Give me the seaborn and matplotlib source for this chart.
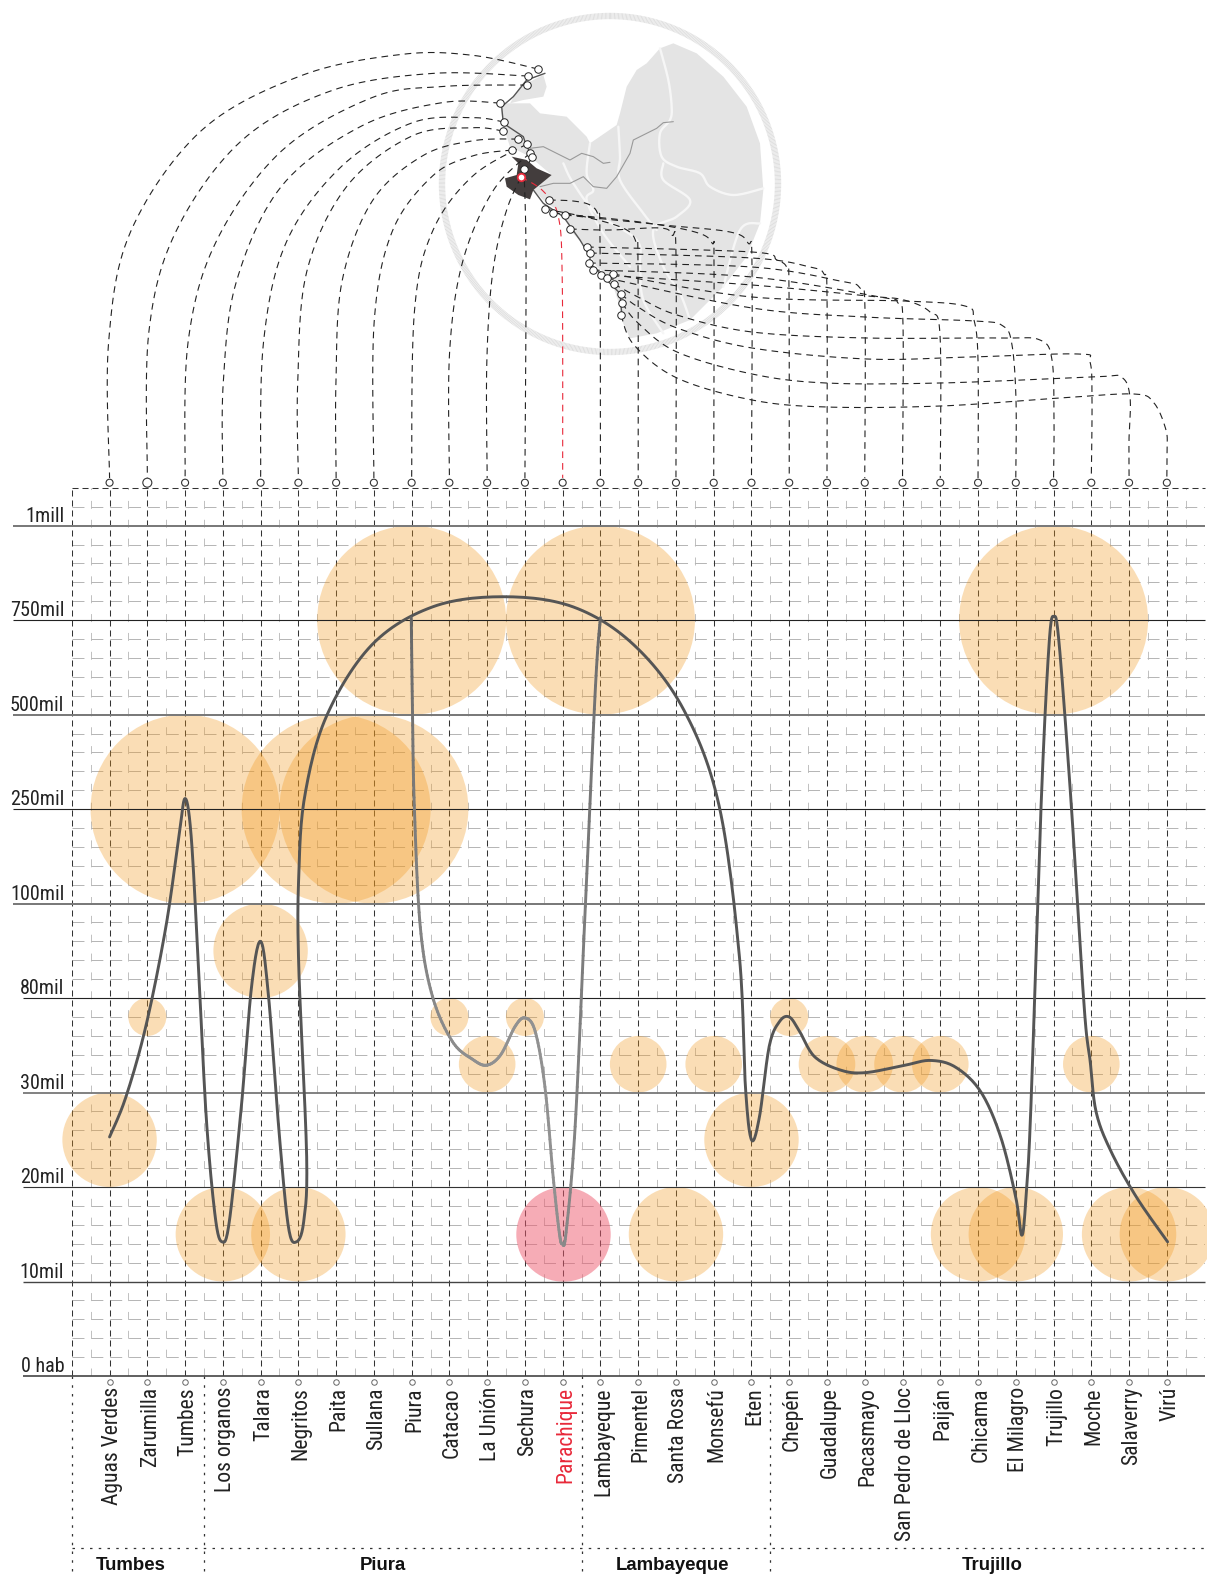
import matplotlib
matplotlib.use("Agg")
import matplotlib.pyplot as plt
from matplotlib import font_manager
from matplotlib.patches import Circle, Polygon
from matplotlib.transforms import ScaledTranslation
import numpy as np
import pandas as pd
import seaborn as sns

# town data
towns = ["Aguas Verdes", "Zarumilla", "Tumbes", "Los organos", "Talara", "Negritos", "Paita",
         "Sullana", "Piura", "Catacao", "La Unión", "Sechura", "Parachique", "Lambayeque",
         "Pimentel", "Santa Rosa", "Monsefú", "Eten", "Chepén", "Guadalupe", "Pacasmayo",
         "San Pedro de Lloc", "Paiján", "Chicama", "El Milagro", "Trujillo", "Moche",
         "Salaverry", "Virú"]
population = [25000, 70000, 250000, 15000, 90000, 15000, 250000, 250000, 750000, 70000, 45000,
              70000, 15000, 750000, 45000, 15000, 45000, 25000, 70000, 45000, 45000, 45000,
              45000, 15000, 15000, 750000, 45000, 15000, 15000]
# bubble class 1-4 (smallest to biggest)
bubble_class = [3, 1, 4, 3, 3, 3, 4, 4, 4, 1, 2, 1, 3, 4, 2, 3, 2, 3, 1, 2, 2, 2, 2, 3, 3, 4, 2, 3, 3]
highlight = "Parachique"

level_values = [0, 10000, 20000, 30000, 80000, 100000, 250000, 500000, 750000, 1000000]
level_labels = ["0 hab", "10mil", "20mil", "30mil", "80mil", "100mil", "250mil", "500mil", "750mil", "1mill"]
level_start = [23, 23, 23, 23, 23, 13, 13, 13, 13, 13]
level_colors = ["#444444", "#444444", "#333333", "#777777", "#222222", "#777777", "#222222", "#777777", "#222222", "#777777"]
level_widths = [1.2, 1.0, 0.8, 1.3, 0.8, 1.4, 0.8, 1.4, 0.8, 1.4]

regions = ["Tumbes", "Piura", "Lambayeque", "Trujillo"]
region_edges = [-1, 2.5, 12.5, 17.5]
region_label_at = [0.55, 7.24, 14.9, 23.37]

# population curve
line_x = [0, .43, .96, 1.49, 1.84, 2, 2.16, 2.34, 2.56, 2.8, 2.98, 3.17, 3.49, 3.76, 4, 4.21, 4.5,
          4.74, 4.95, 5.14, 5.22, 5.01, 5.01, 5.17, 5.75, 6.95, 8.55, 10.42, 12.28, 13.88, 15.21,
          16.14, 16.68, 16.84, 17, 17.21, 17.47, 17.74, 18, 18.27, 18.67, 19.34, 20, 21.07, 21.74,
          22.4, 23.07, 23.6, 24, 24.16, 24.27, 24.4, 24.67, 24.88, 25.01, 25.15, 25.47, 25.81, 25.97,
          26.13, 26.53, 27.2, 28.02]
line_pop = [25300, 29500, 65000, 95000, 208000, 278000, 208000, 89000, 27400, 16800, 14200, 16300,
            28500, 82400, 92000, 80400, 25300, 15700, 14200, 16300, 23200, 86800, 143500, 285000,
            497000, 685000, 785000, 812000, 785000, 685000, 512000, 260000, 88800, 33000, 25000,
            27400, 54500, 67500, 70000, 62500, 49000, 42000, 40500, 44500, 47000, 43500, 30500,
            25300, 18900, 14900, 18900, 28500, 260000, 685000, 760000, 685000, 260000, 75500, 46500,
            27900, 23700, 18900, 14200]
inner_x = [7.99, 8.02, 8.07, 8.23, 8.55, 9.08, 9.62, 9.99, 10.36, 10.74, 11, 11.27, 11.53, 11.75,
           11.91, 11.99, 12.09, 12.33, 12.6, 12.87, 13]
inner_pop = [757000, 525000, 260000, 95000, 80400, 57000, 47500, 44500, 50000, 65000, 69500, 62500,
             33000, 21000, 15200, 14000, 15200, 26400, 99400, 577000, 757000]

# map, in pixels of the picture
town_x = [538, 528, 527, 500, 504, 503, 518, 512, 527, 530, 532, 524, 521, 549, 545, 570, 553, 565,
          587, 590, 589, 593, 601, 613, 607, 614, 621, 622, 621]
town_y = [69, 76, 85, 103, 122, 131, 139, 150, 144, 153, 157, 169, 177, 200, 209, 229, 213, 215,
          247, 253, 263, 270, 275, 274, 278, 284, 294, 303, 315]
# arc way points between town and column
arc_way = {
    "Aguas Verdes": [(470, 55), (400, 54), (300, 75), (200, 130), (130, 230), (108, 340)],
    "Zarumilla": [(430, 73), (330, 90), (240, 140), (175, 230), (148, 330)],
    "Tumbes": [(440, 86), (370, 97), (280, 150), (215, 240), (187, 340)],
    "Los organos": [(440, 102), (360, 125), (280, 185), (235, 280), (222, 380)],
    "Talara": [(470, 117), (410, 122), (340, 165), (285, 240), (262, 340)],
    "Negritos": [(470, 127), (410, 135), (345, 185), (305, 270), (296, 380)],
    "Paita": [(470, 140), (420, 155), (370, 200), (340, 280), (334, 380)],
    "Sullana": [(470, 155), (430, 175), (390, 230), (372, 320)],
    "Piura": [(470, 175), (430, 230), (412, 310)],
    "Catacao": [(490, 190), (460, 260), (447, 350)],
    "La Unión": [(505, 205), (490, 270), (484, 360)],
    "Sechura": [(523, 260)],
    "Parachique": [(540, 190), (555, 215), (559, 280)],
}
arc_way_true = {
    "Lambayeque": [(573, 201), (590, 205), (598, 215), (600, 240)],
    "Pimentel": [(590, 218), (625, 229), (636, 242), (638, 265)],
    "Santa Rosa": [(610, 230), (660, 228), (672, 235), (676, 255)],
    "Monsefú": [(640, 222), (695, 232), (712, 243), (714, 265)],
    "Eten": [(663, 225), (730, 232), (748, 243), (752, 265)],
    "Chepén": [(752, 252), (777, 260), (787, 268), (789, 290)],
    "Guadalupe": [(752, 258), (810, 267), (824, 274), (827, 295)],
    "Pacasmayo": [(752, 267), (840, 281), (860, 288), (865, 310)],
    "San Pedro de Lloc": [(752, 277), (880, 297), (898, 303), (903, 325)],
    "Paiján": [(752, 285), (868, 296), (904, 300), (930, 312), (940, 335)],
    "Chicama": [(752, 297), (904, 301), (965, 306), (974, 320), (978, 360)],
    "El Milagro": [(752, 308), (865, 317), (975, 321), (1003, 326), (1012, 345), (1016, 400)],
    "Trujillo": [(638, 297), (677, 315), (752, 332), (867, 338), (1000, 338), (1040, 340), (1052, 360), (1054, 420)],
    "Moche": [(638, 307), (677, 328), (752, 348), (867, 359), (970, 357), (1078, 354), (1090, 362), (1092, 400)],
    "Salaverry": [(638, 323), (677, 352), (752, 374), (826, 383), (941, 383), (1093, 377), (1121, 377), (1130, 397), (1129, 440)],
    "Virú": [(634, 345), (677, 378), (752, 400), (826, 407), (941, 406), (1060, 398), (1134, 394), (1154, 403), (1166, 430), (1167, 450)],
}
# land and lines in 3x crop units, crop origin at 430,0
land_main = [(690, 145), (730, 130), (800, 160), (880, 230), (950, 320), (990, 430), (1000, 570),
             (990, 670), (950, 770), (880, 860), (780, 960), (680, 1000), (600, 1015), (575, 960),
             (570, 920), (540, 830), (500, 800), (470, 745), (420, 690), (400, 640), (350, 610),
             (310, 570), (330, 550), (365, 525), (300, 470), (240, 440), (220, 380), (210, 310),
             (240, 310), (300, 310), (330, 340), (410, 350), (470, 410), (480, 430), (560, 375),
             (570, 340), (590, 260), (620, 210), (650, 190)]
land_north = [(270, 260), (340, 225), (350, 260), (340, 290), (280, 300), (240, 310)]
dept = [(245, 470), (290, 480), (320, 505), (365, 525), (310, 570), (300, 598), (265, 585),
        (230, 560), (225, 535), (260, 525), (265, 490)]
rivers = [[(300, 445), (340, 440), (370, 455), (420, 480), (455, 460), (490, 470), (520, 490), (540, 487)],
          [(330, 560), (370, 550), (420, 550), (460, 530), (490, 560), (530, 565), (560, 530), (600, 460),
           (610, 420), (680, 385), (700, 368), (730, 365)]]
borders = [[(690, 145), (715, 240), (725, 320), (720, 360), (690, 400), (695, 470), (740, 500),
            (810, 520), (840, 560), (910, 585), (1000, 565)],
           [(700, 490), (700, 540), (780, 600), (740, 650), (670, 690), (700, 800), (750, 880), (780, 960)],
           [(565, 380), (570, 470), (570, 540), (640, 640), (680, 690)],
           [(480, 430), (470, 520), (490, 570), (470, 600), (520, 700), (600, 800)],
           [(400, 490), (430, 550), (500, 640), (620, 720), (630, 800), (640, 900), (700, 1000)],
           [(880, 860), (930, 690), (990, 670)]]
coast = [[(345, 220), (290, 240), (250, 290), (215, 320), (220, 370), (280, 410), (290, 440), (310, 470)],
         [(310, 570), (340, 610), (400, 650), (450, 720), (480, 770), (480, 790), (520, 830), (570, 880), (575, 940)]]

# colours
orange = "#f29a20"
pink = "#ee5a6f"
dark = "#333333"
red = "#e8293a"
narrow = "Liberation Sans"
for f in ["Liberation Sans Narrow", "Arial Narrow", "Roboto Condensed", "Open Sans Condensed", "Noto Sans Condensed"]:
    try:
        font_manager.findfont(f, fallback_to_default=False)
        narrow = f
        break
    except ValueError:
        pass

sns.set_theme(style="white")
plt.rcParams["font.family"] = ["Liberation Sans", "DejaVu Sans"]
W, H = 1207, 1577
view = W / 1200  # overview estimates to real pixels
px = 72 / 100  # points per pixel


def smooth(xs, ys, n=14):
    # catmull-rom through the read points
    p = np.column_stack([xs, ys]).astype(float)
    p = np.vstack([p[0], p, p[-1]])
    out = []
    for i in range(1, len(p) - 2):
        t = np.linspace(0, 1, n, endpoint=False)[:, None]
        out.append(0.5 * (2 * p[i] + (p[i + 1] - p[i - 1]) * t
                          + (2 * p[i - 1] - 5 * p[i] + 4 * p[i + 1] - p[i + 2]) * t ** 2
                          + (3 * p[i] - p[i - 1] - 3 * p[i + 1] + p[i + 2]) * t ** 3))
    out.append(p[-1:])
    return np.vstack(out)


bands = np.arange(11.0)
band_vals = np.array(level_values + [1250000], dtype=float)


def to_band(v):
    return np.interp(v, band_vals, bands)


def from_band(b):
    return np.interp(b, bands, band_vals)


def crop(points):
    a = np.array(points, dtype=float)
    return np.column_stack([a[:, 0] / 3 + 430, a[:, 1] / 3])


fig = plt.figure(figsize=(W / 100, H / 100), dpi=100)
fig.patch.set_facecolor("white")
bg = fig.add_axes([0, 0, 1, 1], zorder=0)
bg.set_xlim(0, W)
bg.set_ylim(H, 0)
bg.axis("off")

left, right, top, bottom = 71.8, 1204.6, 488, 1376
ax = fig.add_axes([left / W, 1 - bottom / H, (right - left) / W, (bottom - top) / H], zorder=1)
ax.patch.set_alpha(0)
ax.set_xlim(-1, 29)
ax.set_yscale("function", functions=(to_band, from_band))
ax.set_ylim(0, from_band((bottom - top) / 94.48))
for s in ax.spines.values():
    s.set_visible(False)
ymax = ax.get_ylim()[1]

# grid
minor_y = [from_band(b / 5) for b in range(0, 47) if b % 5]
ax.vlines(np.arange(-0.5, 29), 0, ymax, color="#c0c0c0", lw=0.7, ls=(0, (8.2, 11.2)), zorder=1)
ax.hlines(minor_y, -1, 29, color="#b4b4b4", lw=0.7, ls=(0, (12.3, 7.1)), zorder=1)
ax.vlines(np.arange(-1, 29), 0, ymax, color=dark, lw=0.75, ls=(0, (5.8, 3.8)), zorder=2)
ax.hlines([ymax], -1, 29, color=dark, lw=0.75, ls=(0, (5.8, 3.8)), zorder=2, clip_on=False)

# bubbles
bub = pd.DataFrame({"x": np.arange(len(towns)), "pop": population, "cls": bubble_class, "town": towns})
radius = {1: 19, 2: 28.3, 3: 47.2, 4: 94.5}
sizes = {k: (2 * r * px) ** 2 for k, r in radius.items()}
sns.scatterplot(data=bub[bub.town != highlight], x="x", y="pop", size="cls", sizes=sizes, color=orange,
                alpha=0.33, linewidth=0, legend=False, ax=ax, zorder=3, clip_on=False)
sns.scatterplot(data=bub[bub.town == highlight], x="x", y="pop", size="cls", sizes=sizes, color=pink,
                alpha=0.5, linewidth=0, legend=False, ax=ax, zorder=3, clip_on=False)

# level lines and labels
for v, lab, st, lc, lw in zip(level_values, level_labels, level_start, level_colors, level_widths):
    ax.hlines(v, -1 + (st - left) / 37.76, 29, color=lc, lw=lw, zorder=4, clip_on=False)
    ax.text(-1.2, from_band(to_band(v) + 0.04), lab, ha="right", va="baseline", fontsize=14.5,
            family=narrow, color="#222222", clip_on=False)

# population curves
c = smooth(line_x, to_band(line_pop))
sns.lineplot(x=c[:, 0], y=from_band(c[:, 1]), sort=False, estimator=None, color="#555555", lw=2.1, ax=ax, zorder=6)
c = smooth(inner_x, to_band(inner_pop))
frac = np.linspace(0, 1, len(c))
pieces = []
shade = []
for i in range(len(c) - 1):
    g = np.clip(abs(frac[i] - 0.5) * 2, 0, 1) ** 3
    pieces.append(pd.DataFrame({"x": c[i:i + 2, 0], "y": from_band(c[i:i + 2, 1]), "piece": i}))
    shade.append((0.57 - 0.17 * g,) * 3)
sns.lineplot(data=pd.concat(pieces), x="x", y="y", hue="piece", palette=shade, sort=False, estimator=None,
             lw=2.1, legend=False, ax=ax, zorder=6)

# axis labels
ax.set_xticks(np.arange(len(towns)))
ax.set_xticklabels(towns, rotation=90, fontsize=15.6, family=narrow, color="#222222", ha="center", va="top")
ax.get_xticklabels()[towns.index(highlight)].set_color(red)
ax.tick_params(axis="x", length=0, pad=8)
nudge = ScaledTranslation(3 / 100, 0, fig.dpi_scale_trans)
for lab in ax.get_xticklabels():
    lab.set_transform(lab.get_transform() + nudge)
ax.set_yticks([])
ax.set_xlabel("")
ax.set_ylabel("")


def col_px(i):
    return ax.transData.transform((i, 1))[0]


# regions
for e in region_edges:
    bg.vlines(col_px(e), bottom, H, color=dark, lw=0.9, ls=(0, (2, 5)), zorder=2)
bg.hlines(1548, left, right, color=dark, lw=0.9, ls=(0, (2, 5)), zorder=2)
for name, at in zip(regions, region_label_at):
    bg.text(col_px(at), 1565, name, ha="center", va="center", fontsize=13.4,
            fontweight="bold", color="#111111")

# map
bg.add_patch(Polygon(crop(land_main), closed=True, fc="#e4e4e4", ec="none", zorder=1))
bg.add_patch(Polygon(crop(land_north), closed=True, fc="#e4e4e4", ec="none", zorder=1))
bg.add_patch(Circle((610, 184), 168, fc="none", ec="#dddddd", lw=4.6, ls=(0, (0.14, 0.07)), zorder=1))
for b in borders:
    p = smooth(*crop(b).T)
    bg.plot(p[:, 0], p[:, 1], color="#f6f6f6", lw=1.7, zorder=1.5)
for r in rivers:
    p = crop(r)
    bg.plot(p[:, 0], p[:, 1], color="#999999", lw=0.8, zorder=1.6)
for r in coast:
    p = crop(r)
    bg.plot(p[:, 0], p[:, 1], color="#555555", lw=1.0, zorder=1.6)
bg.add_patch(Polygon(crop(dept), closed=True, fc="#433d3d", ec="none", zorder=1.7))

# arcs town to column
for i, t in enumerate(towns):
    if t in arc_way:
        way = [(x * view, y * view) for x, y in arc_way[t]]
    else:
        way = arc_way_true[t]
    cx = col_px(i)
    pts = [(town_x[i], town_y[i])] + way + [(cx, 478)]
    p = smooth(*np.array(pts, dtype=float).T)
    col = red if t == highlight else "#222222"
    bg.plot(p[:, 0], p[:, 1], color=col, lw=0.8, ls=(0, (6, 4.5)), zorder=2)

# town and column dots
dots = pd.DataFrame({"x": town_x, "y": town_y, "town": towns})
sns.scatterplot(data=dots[dots.town != highlight], x="x", y="y", s=(7.5 * px) ** 2, color="white", edgecolor="#222222",
                linewidth=0.7, legend=False, ax=bg, zorder=5)
sns.scatterplot(data=dots[dots.town == highlight], x="x", y="y", s=(7.5 * px) ** 2, color="white", edgecolor=red,
                linewidth=1.3, legend=False, ax=bg, zorder=5)
cols = np.array([col_px(i) for i in range(len(towns))])
col_dot = [9 if t == "Zarumilla" else 7 for t in towns]
sns.scatterplot(x=cols, y=np.full(len(cols), 482.7), size=col_dot, sizes={7: (7 * px) ** 2, 9: (9 * px) ** 2},
                color="white", edgecolor="#333333", linewidth=0.8, legend=False, ax=bg, zorder=5)
sns.scatterplot(x=cols, y=np.full(len(cols), 1381.7), s=(5.5 * px) ** 2, color="white", edgecolor="#666666",
                linewidth=0.7, legend=False, ax=bg, zorder=5)
bg.set_xlabel("")
bg.set_ylabel("")
bg.set_xlim(0, W)
bg.set_ylim(H, 0)

fig.savefig("out.png", dpi=100)
